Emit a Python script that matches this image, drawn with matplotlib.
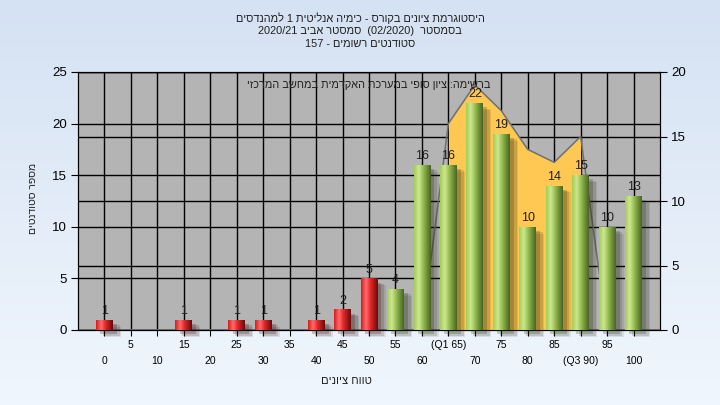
import re
import numpy as np
import matplotlib
matplotlib.use('Agg')
import matplotlib.pyplot as plt
from matplotlib.colors import LinearSegmentedColormap
from matplotlib import patheffects as pe

plt.rcParams['font.family'] = ['Liberation Sans', 'DejaVu Sans']

# data
grades = [0, 5, 10, 15, 20, 25, 30, 35, 40, 45, 50, 55, 60, 65, 70, 75, 80, 85, 90, 95, 100]
counts = [1, 0, 0, 1, 0, 1, 1, 0, 1, 2, 5, 4, 16, 16, 22, 19, 10, 14, 15, 10, 13]
tick_labels = ['0', '5', '10', '15', '20', '25', '30', '35', '40', '45', '50', '55', '60',
               '(Q1 65)', '70', '75', '80', '85', '(Q3 90)', '95', '100']
# gray line on the right axis, orange fill between Q1 and Q3
curve = [0, 0, 0, 0, 0, 0, 0, 0, 0, 0, 0, 0, 0, 16, 19, 17, 14, 13, 15, 0, 0]
q1_idx, q3_idx = 13, 18

title_lines = ['היסטוגרמת ציונים בקורס - כימיה אנליטית 1 למהנדסים',
               'בסמסטר  (02/2020)  סמסטר אביב 2020/21',
               'סטודנטים רשומים - 157']
note = 'ברשימה: ציון סופי במערכת האקדמית במחשב המרכזי'
ylabel = 'מספר סטודנטים'
xlabel = 'טווח ציונים'


def rtl(s):
    # simple right-to-left reordering, keeps numbers left-to-right
    tokens = re.findall(r'[0-9A-Za-z]+(?:[/.][0-9A-Za-z]+)*|[^0-9A-Za-z]+', s)
    mirror = {'(': ')', ')': '('}
    out = []
    for t in reversed(tokens):
        if re.match(r'[0-9A-Za-z]', t):
            out.append(t)
        else:
            out.append(''.join(mirror.get(c, c) for c in reversed(t)))
    return ''.join(out)


fig = plt.figure(figsize=(7.2, 4.05), dpi=100)

# light blue background gradient
bg = fig.add_axes([0, 0, 1, 1], zorder=-10)
bg_cmap = LinearSegmentedColormap.from_list('bg', ['#f0f6fd', '#d5e2f3'])
bg.imshow(np.linspace(0, 1, 100).reshape(-1, 1), aspect='auto', cmap=bg_cmap,
          origin='lower', extent=[0, 1, 0, 1])
bg.axis('off')

x = np.arange(len(grades))

ax = fig.add_axes([78 / 720, 75 / 405, 582 / 720, 258 / 405])
ax.set_facecolor('#b4b4b4')
ax.set_xlim(-1, 21)
ax.set_ylim(0, 25)
ax.set_yticks(range(0, 26, 5))
ax.set_xticks(x)
ax.set_xticklabels([lab if i % 2 else '\n' + lab for i, lab in enumerate(tick_labels)],
                   linespacing=1.75)
ax.grid(True, color='black', lw=1)
ax.set_axisbelow(True)
ax.tick_params(axis='x', length=4, labelsize=7.5, pad=3)
ax.tick_params(axis='y', length=5, labelsize=9.5, pad=3)

ax2 = ax.twinx()
ax2.set_ylim(0, 20)
ax2.set_yticks(range(0, 21, 5))
ax2.grid(axis='y', color='black', lw=1)
ax2.set_axisbelow(True)
ax2.tick_params(axis='y', length=5, labelsize=9.5, pad=3)
ax2.fill_between(x[q1_idx:q3_idx + 1], curve[q1_idx:q3_idx + 1], color='#ffc852', lw=0)
ax2.plot(x, curve, color='#707070', lw=1.1)

ax3 = ax.twinx()
ax3.axis('off')

# soft shadow: a few stacked offsets
shadow = [pe.SimplePatchShadow(offset=(6, -5), alpha=0.10, rho=0.2),
          pe.SimplePatchShadow(offset=(5, -4), alpha=0.15, rho=0.2),
          pe.SimplePatchShadow(offset=(3, -3), alpha=0.22, rho=0.2),
          pe.Normal()]
bar_colors = ['#e82a2a' if g <= 50 else '#98c450' for g in grades]
bars = ax3.bar(x, counts, width=0.63, color=bar_colors, clip_on=False, zorder=2,
               path_effects=shadow)

red_cmap = LinearSegmentedColormap.from_list(
    'red', [(0, '#d81c1c'), (0.3, '#ff6c6c'), (0.55, '#e42828'), (1, '#6a0a0a')])
green_cmap = LinearSegmentedColormap.from_list(
    'green', [(0, '#a2cc56'), (0.28, '#cce98e'), (0.6, '#8ab248'), (1, '#4a6424')])
grad = np.linspace(0, 1, 64).reshape(1, -1)
for b, g, v in zip(bars, grades, counts):
    if v == 0:
        continue
    im = ax3.imshow(grad, aspect='auto', origin='lower', zorder=3,
                    cmap=red_cmap if g <= 50 else green_cmap,
                    extent=[b.get_x(), b.get_x() + b.get_width(), 0, v])
    im.set_clip_path(b)
    ax3.annotate(str(v), (b.get_x() + b.get_width() / 2, v), xytext=(0, 2),
                 textcoords='offset points', ha='center', va='bottom',
                 fontsize=9, color='#202020', zorder=5)

ax3.set_xlim(-1, 21)
ax3.set_ylim(0, 25)
ax3.text(0.5, 0.95, rtl(note), transform=ax3.transAxes, ha='center', va='center',
         fontsize=7.8, color='#202020', zorder=6)

for i, line in enumerate(title_lines):
    fig.text(0.5, 1 - (18 + 13 * i) / 405, rtl(line), ha='center', va='center',
             fontsize=7.9, color='#202020')
fig.text(33 / 720, 1 - 198 / 405, rtl(ylabel), rotation=90, ha='center', va='center',
         fontsize=7.5, color='#202020')
fig.text(346 / 720, 1 - 381 / 405, rtl(xlabel), ha='center', va='center',
         fontsize=8, color='#202020')

fig.savefig('out.png', dpi=100)
